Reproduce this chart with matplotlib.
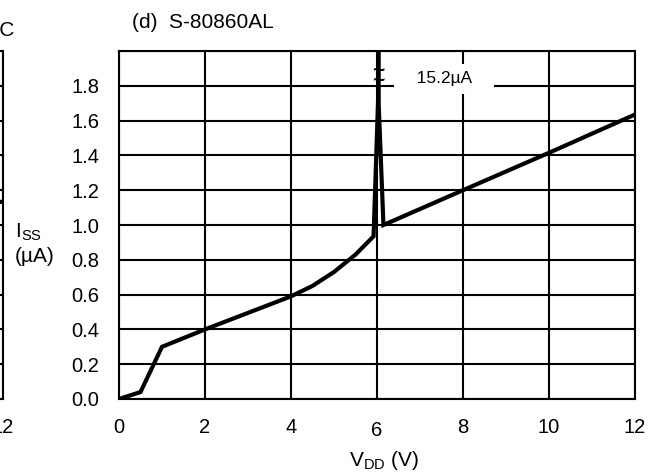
import numpy as np
import matplotlib
matplotlib.use("Agg")
import matplotlib.pyplot as plt

plt.rcParams["font.family"] = ["Liberation Sans", "DejaVu Sans"]
plt.rcParams["mathtext.fontset"] = "custom"
plt.rcParams["mathtext.rm"] = "Liberation Sans"

# S-80860AL supply current vs supply voltage (peak off-scale at ~6 V = 15.2 uA)
vdd = [0.0, 0.5, 1.0, 2.0, 4.0, 4.5, 5.0, 5.5, 5.92, 6.03, 6.03, 6.03, 6.15, 8.0, 10.0, 12.0]
iss = [0.0, 0.04, 0.30, 0.40, 0.59, 0.65, 0.73, 0.83, 0.935, 1.75, 2.05, 1.75, 1.0, 1.2, 1.415, 1.635]
peak_label = "15.2µA"
peak_x, peak_y = 7.56, 1.84

xticks = [0, 2, 4, 6, 8, 10, 12]
yticks = [0.0, 0.2, 0.4, 0.6, 0.8, 1.0, 1.2, 1.4, 1.6, 1.8]

# neighbouring panel (c), only its right edge is visible
nb_vdd = [11.6, 12.0]
nb_iss = [1.12, 1.135]

W, H = 662, 476
fig = plt.figure(figsize=(W / 100, H / 100), dpi=100)


def frame(ax):
    ax.set_xlim(0, 12); ax.set_ylim(0, 2.0)
    ax.set_xticks(xticks); ax.set_yticks(np.arange(0, 2.01, 0.2))
    ax.grid(True, color="black", lw=1.5)
    for s in ax.spines.values():
        s.set_linewidth(1.5); s.set_color("black")
    ax.tick_params(length=0, labelsize=14.5, pad=14)


# left neighbour, mostly off canvas
ax2 = fig.add_axes([(3 - 516) / W, 77 / H, 516 / W, 348 / H])
frame(ax2)
ax2.set_yticklabels([])
ax2.set_xticklabels(["" if t != 12 else "12" for t in xticks])
ax2.plot(nb_vdd, nb_iss, color="black", lw=3)
fig.text(15 / W, 1 - 30 / H, "°C", ha="right", va="center", fontsize=15)

ax = fig.add_axes([119 / W, 77 / H, 516 / W, 348 / H])
frame(ax)
ax.set_yticklabels([f"{v:.1f}" for v in yticks] + [""])
ax.set_xticklabels([str(t) for t in xticks])
ax.xaxis.get_major_ticks()[3].set_pad(16)
ax.plot(vdd, iss, color="black", lw=3, solid_joinstyle="miter", zorder=5)
ax.text(6.03, 1.886, "~", ha="center", va="center", fontsize=15, fontweight="bold", zorder=6)
ax.text(6.03, 1.83, "~", ha="center", va="center", fontsize=15, fontweight="bold", zorder=6)
ax.text(peak_x, peak_y, "   " + peak_label + "   ", ha="center", va="center", fontsize=12.5,
        bbox=dict(boxstyle="square,pad=0.45", fc="white", ec="none"), zorder=4)

fig.text(132 / W, 1 - 22 / H, "(d)  S-80860AL", ha="left", va="center", fontsize=15)
fig.text(384 / W, 1 - 460 / H, r"V$_{\mathregular{DD}}$ (V)", ha="center", va="center", fontsize=15)
fig.text(15 / W, 1 - 232 / H, r"I$_{\mathregular{SS}}$", ha="left", va="center", fontsize=15)
fig.text(15 / W, 1 - 257 / H, "(µA)", ha="left", va="center", fontsize=15)

fig.savefig("out.png", dpi=100)
